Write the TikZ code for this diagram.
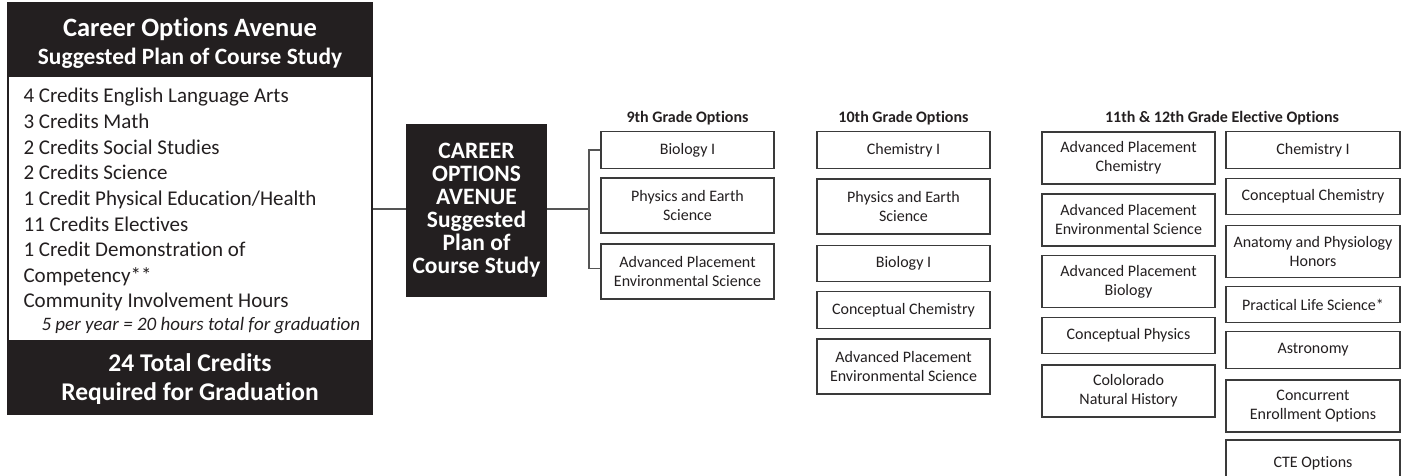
\documentclass[tikz,border=0pt]{standalone}
\usepackage{fontspec}
\setmainfont{Carlito}[Ligatures=CommonOff]
\definecolor{inkblack}{HTML}{231F20}
\definecolor{rulegray}{HTML}{3A3A3A}
\definecolor{wiregray}{HTML}{555555}

\tikzset{
  course/.style={draw=rulegray, line width=1.3pt, fill=white, minimum width=173pt,
    align=center, inner sep=0pt, text=inkblack, font=\fontsize{16}{19}\selectfont},
  oneline/.style={course, minimum height=36.5pt},
  twoline/.style={course, minimum height=55pt},
  gradehead/.style={anchor=base, text=inkblack, font=\bfseries\fontsize{16}{18}\selectfont},
  whitehead/.style={anchor=base, text=white},
  wire/.style={draw=wiregray, line width=1.4pt},
}

\begin{document}
\begin{tikzpicture}[x=1pt, y=-1pt]
  \useasboundingbox (0,0) rectangle (1401,476);
  \clip (0,0) rectangle (1401,476);
  % Plan box
  \fill[inkblack] (8,3) rectangle (372,77);
  \fill[inkblack] (8,340) rectangle (372,414);
  \node[draw=inkblack, line width=2.5pt, minimum width=364pt, minimum height=411pt, inner sep=0pt] (planbox) at (190,208.5) {};
  \node[whitehead, font=\bfseries\fontsize{26.5}{30}\selectfont] (plantop) at (190,37) {Career Options Avenue};
  \node[whitehead, font=\bfseries\fontsize{23.4}{27}\selectfont] (plansub) at (190,65) {Suggested Plan of Course Study};
  \foreach \txt [count=\i] in {4 Credits English Language Arts, 3 Credits Math, 2 Credits Social Studies,
      2 Credits Science, 1 Credit Physical Education/Health, 11 Credits Electives,
      1 Credit Demonstration of, Competency**, Community Involvement Hours}
    \node[anchor=base west, text=inkblack, font=\fontsize{21}{25}\selectfont] (credit\i) at (20,{103+25.6*(\i-1)}) {\txt};
  \node[anchor=base west, text=inkblack, font=\itshape\fontsize{19}{22}\selectfont] (hours) at (38,330) {5 per year = 20 hours total for graduation};
  \node[whitehead, font=\bfseries\fontsize{25.5}{29}\selectfont] (total) at (190,371) {24 Total Credits};
  \node[whitehead, font=\bfseries\fontsize{25.5}{29}\selectfont] (required) at (190,400) {Required for Graduation};
  % Center box
  \node[fill=inkblack, text=white, minimum width=141pt, minimum height=173pt, inner sep=0pt, align=center,
    font=\bfseries\fontsize{23.5}{23}\selectfont] (hub) at (476.5,210.5)
    {CAREER\\OPTIONS\\AVENUE\\Suggested\\Plan of\\Course Study};
  % 9th grade
  \node[gradehead] (h9) at (687.5,123) {9th Grade Options};
  \node[oneline] (g9a) at (687.5,150) {Biology I};
  \node[twoline] (g9b) at (687.5,205.5) {Physics and Earth\\Science};
  \node[twoline] (g9c) at (687.5,271.5) {Advanced Placement\\Environmental Science};
  % 10th grade
  \node[gradehead] (h10) at (903.5,123) {10th Grade Options};
  \node[oneline] (g10a) at (903.5,150) {Chemistry I};
  \node[twoline] (g10b) at (903.5,206.5) {Physics and Earth\\Science};
  \node[oneline] (g10c) at (903.5,263.5) {Biology I};
  \node[oneline] (g10d) at (903.5,310) {Conceptual Chemistry};
  \node[twoline] (g10e) at (903.5,366.5) {Advanced Placement\\Environmental Science};
  % 11th & 12th grade, left column
  \node[gradehead] (h11) at (1222,123) {11th \& 12th Grade Elective Options};
  \node[twoline, minimum height=52pt] (g11a) at (1128.5,158) {Advanced Placement\\Chemistry};
  \node[twoline, minimum height=52pt] (g11b) at (1128.5,220) {Advanced Placement\\Environmental Science};
  \node[twoline, minimum height=52pt] (g11c) at (1128.5,281.5) {Advanced Placement\\Biology};
  \node[oneline] (g11d) at (1128.5,335.5) {Conceptual Physics};
  \node[twoline, minimum height=52pt] (g11e) at (1128.5,391) {Cololorado\\Natural History};
  % 11th & 12th grade, right column
  \node[oneline, minimum width=174pt] (g12a) at (1313,150) {Chemistry I};
  \node[oneline, minimum width=174pt] (g12b) at (1313,196.5) {Conceptual Chemistry};
  \node[twoline, minimum width=174pt, minimum height=52pt] (g12c) at (1313,251.5) {Anatomy and Physiology\\Honors};
  \node[oneline, minimum width=174pt] (g12d) at (1313,304.5) {Practical Life Science*};
  \node[oneline, minimum width=174pt] (g12e) at (1313,350) {Astronomy};
  \node[twoline, minimum width=174pt, minimum height=52pt] (g12f) at (1313,406) {Concurrent\\Enrollment Options};
  \node[oneline, minimum width=174pt, minimum height=46pt] (g12g) at (1313,463) {CTE Options};
  % Connectors
  \coordinate (split) at (589,209);
  \draw[wire] (planbox.east |- split) -- (hub.west |- split);
  \draw[wire] (hub.east |- split) -- (split);
  \draw[wire] (g9a.west) -| (split) |- ([yshift=3pt]g9c.west);
\end{tikzpicture}
\end{document}
